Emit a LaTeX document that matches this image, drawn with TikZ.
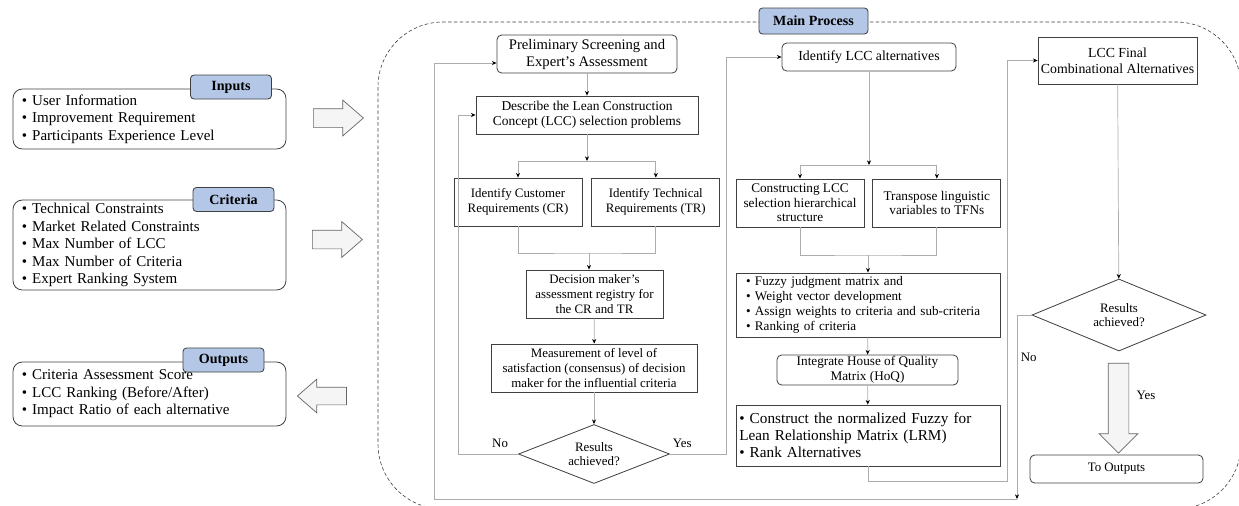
\documentclass[tikz,border=0pt]{standalone}
\usepackage{fontspec}
\setmainfont{Liberation Serif}
\usetikzlibrary{positioning,arrows.meta,shapes.geometric,shapes.arrows,calc}

\definecolor{tagblue}{HTML}{B4C7E7}
\definecolor{edge}{HTML}{404040}

\begin{document}
\begin{tikzpicture}[x=0.3mm, y=-0.3mm, >={Stealth[length=4pt,width=3.5pt]},
  font=\fontsize{11}{12.5}\selectfont,
  box/.style={draw=edge, line width=0.7pt, align=center, inner sep=1pt},
  rbox/.style={box, rounded corners=4pt},
  listbox/.style={draw=edge, line width=0.7pt, rounded corners=8pt, text width=76.5mm,
    align=left, inner xsep=2.7mm, inner ysep=0.5pt, font=\fontsize{12.8}{14.9}\selectfont},
  tag/.style={draw=edge, line width=0.7pt, fill=tagblue, rounded corners=3pt,
    minimum width=24.3mm, minimum height=7.2mm, inner sep=1pt, font=\fontsize{12}{14}\selectfont\bfseries},
  fat/.style={single arrow, draw=gray!80!black, fill=gray!8, line width=0.6pt, inner sep=0pt,
    single arrow tip angle=82},
  decide/.style={diamond, draw=edge, line width=0.7pt, align=center, inner sep=0pt},
  line/.style={draw=gray!65, line width=0.6pt},
  conn/.style={line, -{Stealth[length=4pt,width=3.5pt,color=black]}},
  lbl/.style={font=\fontsize{11}{12}\selectfont, inner sep=1pt}]
  \useasboundingbox (0,0) rectangle (1239,505);

  % main process frame
  \begin{scope}
    \clip (0,0) rectangle (1239,505);
    \draw[draw=edge, dash pattern=on 3pt off 2pt, line width=0.5pt, rounded corners=19.5mm]
      (378,22) rectangle (1241,509);
  \end{scope}
  \node[tag, minimum width=32.7mm, minimum height=7.8mm] (maintag) at (813.5,21) {Main Process};

  % inputs, criteria, outputs
  \node[listbox, minimum height=18mm] (inbox) at (149.5,119)
    {\textbullet\ User Information\\\textbullet\ Improvement Requirement\\\textbullet\ Participants Experience Level};
  \node[tag] (intag) at (231,87) {Inputs};
  \node[listbox, minimum height=27mm] (critbox) at (149.5,245)
    {\textbullet\ Technical Constraints\\\textbullet\ Market Related Constraints\\\textbullet\ Max Number of LCC\\\textbullet\ Max Number of Criteria\\\textbullet\ Expert Ranking System};
  \node[tag] (crittag) at (233.5,199.5) {Criteria};
  \node[listbox, minimum height=19.2mm] (outbox) at (149.5,394)
    {\textbullet\ Criteria Assessment Score\\\textbullet\ LCC Ranking (Before/After)\\\textbullet\ Impact Ratio of each alternative};
  \node[tag] (outtag) at (223.5,360) {Outputs};

  \node[fat, minimum height=15mm, single arrow head extend=2.55mm] (go1) at (333,118) {\rule{0pt}{5.4mm}};
  \node[fat, minimum height=15mm, single arrow head extend=2.55mm] (go2) at (332,239.5) {\rule{0pt}{5.4mm}};
  \node[fat, shape border rotate=180, minimum height=14.7mm, single arrow head extend=2.4mm] (back) at (327,396) {\rule{0pt}{5.1mm}};

  % first column
  \node[rbox, minimum width=54mm, minimum height=11.4mm, font=\fontsize{12.5}{14.5}\selectfont] (prelim) at (587,54) {Preliminary Screening and\\Expert's Assessment};
  \node[box, minimum width=66.6mm, minimum height=11.4mm, font=\fontsize{11.5}{13}\selectfont] (describe) at (587,115) {Describe the Lean Construction\\Concept (LCC) selection problems};
  \node[box, minimum width=38.4mm, minimum height=14.4mm] (cr) at (518,202) {Identify Customer\\Requirements (CR)};
  \node[box, minimum width=38.4mm, minimum height=14.4mm, right=2.7mm of cr] (tr) {Identify Technical\\Requirements (TR)};
  \node[box, minimum width=41.1mm, minimum height=14.4mm] (dm) at (594.5,294) {Decision maker’s\\assessment registry for\\the CR and TR};
  \node[box, minimum width=61.8mm, minimum height=14.4mm] (meas) at (594,368) {Measurement of level of\\satisfaction (consensus) of decision\\maker for the influential criteria};
  \node[decide, minimum width=45.3mm, minimum height=17.7mm, aspect=2.6] (res1) at (594,454) {Results\\achieved?};

  % second column
  \begin{scope}[font=\fontsize{11.3}{12.5}\selectfont]
  \node[rbox, minimum width=52.2mm, minimum height=8.4mm, font=\fontsize{11.8}{13}\selectfont] (alt) at (869,57) {Identify LCC alternatives};
  \node[box, minimum width=38.4mm, minimum height=14.4mm] (constr) at (800,203) {Constructing LCC\\selection hierarchical\\structure};
  \node[box, minimum width=38.4mm, minimum height=14.4mm, right=2.4mm of constr] (tfn) {Transpose linguistic\\variables to TFNs};
  \node[box, minimum height=19.2mm, text width=73.2mm, inner xsep=3mm, align=left,
    font=\fontsize{11.2}{12.8}\selectfont] (fuzzy) at (868,305)
    {\textbullet\ Fuzzy judgment matrix and\\\textbullet\ Weight vector development\\\textbullet\ Assign weights to criteria and sub-criteria\\\textbullet\ Ranking of criteria};
  \node[rbox, minimum width=54.3mm, minimum height=9mm] (hoq) at (867.5,370) {Integrate House of Quality\\Matrix (HoQ)};
  \node[box, minimum height=18.3mm, text width=77.2mm, inner xsep=1mm, align=left,
    font=\fontsize{13}{14.5}\selectfont] (lrm) at (868,435.5)
    {\textbullet\ Construct the normalized Fuzzy for\\Lean Relationship Matrix (LRM)\\\textbullet\ Rank Alternatives};
  \end{scope}

  % third column
  \node[box, minimum width=47.7mm, minimum height=14.1mm, font=\fontsize{11.8}{13.5}\selectfont] (final) at (1117.5,60.5) {LCC Final\\Combinational Alternatives};
  \node[decide, minimum width=52.2mm, minimum height=21.6mm, aspect=2.4] (res2) at (1119,315) {Results\\achieved?};
  \node[fat, shape border rotate=270, minimum height=27mm, single arrow head extend=2.7mm, single arrow tip angle=90] (yesarr) at (1118.5,403) {\rule{6mm}{0pt}};
  \node[lbl] (yes2) at (1146,395) {Yes};
  \node[rbox, minimum width=51.9mm, minimum height=8.4mm] (toout) at (1116.5,469) {To Outputs};

  % connectors, first column
  \coordinate (br1) at (587,161);
  \coordinate (mg1) at (589,253);
  \draw[conn] (prelim) -- (describe);
  \draw[conn] (describe) -- (br1);
  \draw[conn] (br1) -| (cr.north);
  \draw[conn] (br1) -| (tr.north);
  \draw[line] (cr.south) |- (mg1) -| (tr.south);
  \draw[conn] (mg1) -- (mg1 |- dm.north);
  \draw[conn] (dm) -- (meas);
  \draw[conn] (meas) -- (res1);
  \draw[conn] (res1.west) -- ++(-60,0) node[lbl, pos=0.3, above=4pt] (no1) {No} |- (describe.west);
  \draw[conn] (res1.east) -- ++(56.5,0) node[lbl, pos=0.22, above=4pt] (yes1) {Yes} |- (alt.west);

  % connectors, second column
  \coordinate (br2) at (869,165);
  \coordinate (mg2) at (868,255);
  \draw[conn] (alt) -- (br2);
  \draw[conn] (br2) -| (constr.north);
  \draw[conn] (br2) -| (tfn.north);
  \draw[line] (constr.south) |- (mg2) -| (tfn.south);
  \draw[conn] (mg2) -- (fuzzy.north);
  \draw[conn] (fuzzy) -- (hoq);
  \draw[conn] (hoq) -- (lrm);
  \draw[conn] (lrm.south) -- ++(0,15) -- ++(139,0) |- (final.west);

  % connectors, third column
  \coordinate (nb) at (1017,499);
  \coordinate (loop) at (434,499);
  \draw[conn] (final) -- (res2);
  \draw[conn] (res2.west) -- (res2.west -| nb) -- node[lbl, pos=0.23, right=2pt] (no2) {No} (nb);
  \draw[conn] (nb) -- (loop) |- ($(prelim.west)+(0,9)$);
\end{tikzpicture}
\end{document}
